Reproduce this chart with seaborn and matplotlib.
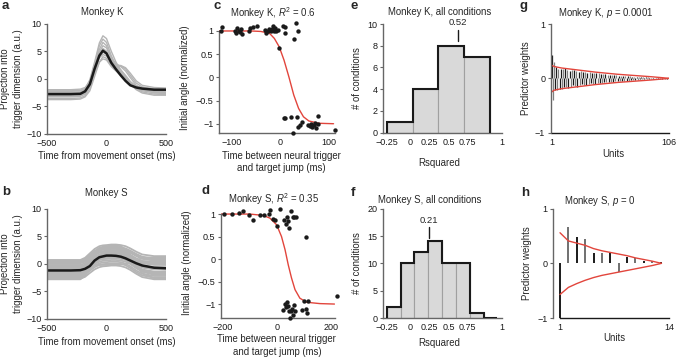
import numpy as np
import pandas as pd
import matplotlib
matplotlib.use('Agg')
import matplotlib.pyplot as plt
import seaborn as sns

sns.set_theme(style='ticks')
plt.rcParams['font.family'] = ['Liberation Sans', 'DejaVu Sans']
plt.rcParams['mathtext.fontset'] = 'custom'
plt.rcParams['mathtext.rm'] = 'Liberation Sans'
plt.rcParams['mathtext.it'] = 'Liberation Sans:italic'
plt.rcParams['axes.unicode_minus'] = True

# ---------------- data ----------------
time_ms = [-500, -300, -220, -180, -140, -100, -60, -30, 0, 40, 80, 120, 160, 200, 250, 300, 400, 500]

a_mean = [-2.8, -2.8, -2.75, -2.3, -1.0, 1.8, 4.2, 5.1, 4.6, 2.9, 1.7, 0.6, -0.4, -1.2, -1.6, -1.8, -2.0, -2.0]
a_trials = [
    [-2.2, -2.2, -2.1, -1.8, -0.2, 3.0, 6.5, 7.8, 7.3, 5.0, 3.0, 1.6, 0.4, -0.6, -1.3, -1.6, -1.8, -1.8],
    [-2.5, -2.5, -2.4, -2.0, -0.5, 2.6, 6.0, 7.2, 6.6, 4.2, 2.4, 1.0, -0.1, -1.0, -1.6, -1.9, -2.1, -2.1],
    [-3.0, -3.0, -2.9, -2.5, -1.0, 2.0, 5.3, 6.6, 6.0, 3.6, 2.4, 1.6, 0.6, -0.5, -1.5, -2.0, -2.3, -2.4],
    [-3.3, -3.3, -3.2, -2.8, -1.4, 1.5, 4.8, 6.0, 5.6, 3.8, 2.6, 2.2, 1.4, 0.2, -1.2, -2.0, -2.6, -2.7],
    [-3.6, -3.6, -3.5, -3.1, -1.8, 1.0, 4.3, 5.5, 5.0, 3.2, 2.0, 1.2, 0.2, -0.8, -1.8, -2.4, -2.8, -2.9],
    [-2.0, -2.0, -1.9, -1.6, -0.6, 1.6, 3.8, 4.4, 4.1, 3.0, 2.4, 2.4, 2.0, 1.0, -0.4, -1.2, -1.6, -1.7],
    [-3.8, -3.8, -3.7, -3.3, -2.2, 0.4, 3.0, 4.0, 3.7, 2.4, 1.5, 0.8, 0.0, -1.0, -2.0, -2.6, -3.0, -3.0],
    [-2.6, -2.6, -2.5, -2.2, -1.2, 1.0, 3.0, 3.6, 3.4, 2.2, 1.4, 0.6, -0.2, -0.9, -1.5, -1.9, -2.2, -2.2],
    [-3.2, -3.2, -3.1, -2.7, -1.3, 1.8, 4.2, 5.0, 4.6, 3.0, 1.8, 0.8, -0.2, -1.0, -1.8, -2.2, -2.5, -2.5],
    [-2.3, -2.3, -2.2, -1.9, -0.8, 1.8, 4.0, 4.8, 4.5, 3.4, 2.6, 2.3, 1.8, 0.6, -0.8, -1.5, -1.9, -2.0],
]

b_mean = [-1.2, -1.2, -1.15, -0.9, -0.4, 0.6, 1.2, 1.35, 1.5, 1.5, 1.45, 1.3, 1.0, 0.6, 0.1, -0.3, -0.7, -0.8]
b_trials = [
    [0.7, 0.7, 0.7, 1.1, 1.9, 2.7, 3.2, 3.35, 3.4, 3.5, 3.5, 3.4, 3.2, 2.8, 2.2, 1.7, 1.4, 1.4],
    [0.4, 0.4, 0.4, 0.8, 1.6, 2.35, 2.8, 2.95, 3.0, 3.1, 3.1, 3.0, 2.8, 2.4, 1.8, 1.3, 1.0, 1.0],
    [0.1, 0.1, 0.1, 0.5, 1.2, 2.0, 2.4, 2.55, 2.6, 2.7, 2.7, 2.6, 2.4, 2.0, 1.4, 0.9, 0.6, 0.6],
    [-0.2, -0.2, -0.2, 0.15, 0.9, 1.6, 2.0, 2.15, 2.2, 2.3, 2.3, 2.2, 2.0, 1.6, 1.0, 0.5, 0.2, 0.2],
    [-0.5, -0.5, -0.5, -0.15, 0.6, 1.3, 1.7, 1.85, 1.9, 2.0, 2.0, 1.9, 1.7, 1.3, 0.65, 0.1, -0.2, -0.2],
    [-0.8, -0.8, -0.8, -0.45, 0.3, 1.0, 1.4, 1.55, 1.6, 1.7, 1.7, 1.6, 1.4, 0.95, 0.3, -0.3, -0.6, -0.6],
    [-1.1, -1.1, -1.1, -0.75, -0.05, 0.6, 1.0, 1.15, 1.2, 1.3, 1.3, 1.2, 1.0, 0.55, -0.1, -0.7, -1.0, -1.0],
    [-1.4, -1.4, -1.4, -1.05, -0.35, 0.3, 0.7, 0.85, 0.9, 1.0, 1.0, 0.9, 0.7, 0.25, -0.45, -1.05, -1.4, -1.4],
    [-1.7, -1.7, -1.7, -1.35, -0.65, 0.0, 0.4, 0.55, 0.6, 0.7, 0.7, 0.6, 0.4, -0.05, -0.8, -1.4, -1.8, -1.8],
    [-2.0, -2.0, -2.0, -1.65, -0.95, -0.3, 0.1, 0.25, 0.3, 0.4, 0.4, 0.3, 0.05, -0.45, -1.2, -1.8, -2.2, -2.2],
    [-2.3, -2.3, -2.3, -1.95, -1.25, -0.6, -0.2, -0.05, 0.0, 0.1, 0.1, 0.0, -0.25, -0.75, -1.5, -2.1, -2.5, -2.5],
    [-2.7, -2.7, -2.7, -2.35, -1.65, -1.0, -0.6, -0.45, -0.4, -0.3, -0.3, -0.4, -0.65, -1.1, -1.8, -2.4, -2.8, -2.8],
    [0.3, 0.3, 0.3, 0.4, 0.6, 0.8, 0.95, 1.0, 1.0, 1.1, 1.1, 1.0, 0.75, 0.25, -0.5, -1.1, -1.5, -1.5],
    [-2.5, -2.5, -2.5, -1.7, -0.1, 1.5, 2.4, 2.7, 2.8, 2.9, 2.9, 2.8, 2.6, 2.2, 1.6, 1.1, 0.8, 0.8],
    [-1.0, -1.0, -1.0, -0.4, 0.9, 2.2, 2.9, 3.1, 3.2, 3.3, 3.3, 3.2, 2.6, 1.5, -0.3, -1.7, -2.6, -2.6],
    [-0.3, -0.3, -0.3, -0.3, -0.25, -0.2, -0.2, -0.2, -0.2, -0.1, -0.1, -0.1, 0.0, 0.3, 0.7, 1.0, 1.2, 1.2],
    [0.6, 0.6, 0.6, 0.7, 0.95, 1.2, 1.4, 1.5, 1.5, 1.6, 1.6, 1.5, 1.1, 0.4, -0.6, -1.4, -2.0, -2.0],
    [-2.8, -2.8, -2.8, -2.1, -0.7, 0.6, 1.4, 1.7, 1.8, 1.9, 1.9, 1.8, 1.6, 1.2, 0.6, 0.2, 0.0, 0.0],
    [0.5, 0.5, 0.5, 0.8, 1.5, 2.2, 2.7, 2.9, 3.0, 3.0, 2.9, 2.7, 2.3, 1.6, 0.6, -0.3, -0.9, -1.0],
    [-1.6, -1.6, -1.6, -1.2, -0.3, 0.8, 1.6, 1.9, 2.0, 2.1, 2.1, 2.0, 1.8, 1.4, 0.8, 0.3, 0.0, -0.1],
    [-2.2, -2.2, -2.2, -1.8, -0.9, 0.2, 0.9, 1.2, 1.3, 1.4, 1.4, 1.3, 1.0, 0.5, -0.4, -1.2, -1.7, -1.8],
    [-0.6, -0.6, -0.6, -0.3, 0.3, 0.8, 1.0, 1.1, 1.1, 1.2, 1.2, 1.1, 0.9, 0.5, 0.0, -0.5, -0.9, -1.0],
    [0.2, 0.2, 0.2, 0.5, 1.0, 1.7, 2.1, 2.3, 2.4, 2.5, 2.5, 2.4, 2.1, 1.6, 0.9, 0.4, 0.2, 0.1],
    [-1.9, -1.9, -1.9, -1.5, -0.7, 0.3, 1.0, 1.3, 1.4, 1.5, 1.5, 1.4, 1.3, 1.1, 0.7, 0.5, 0.4, 0.4],
]

c_x = [-122, -119, -93, -90, -89, -85, -82, -81, -79, -65, -62, -55, -47, -32, -29, -25, -23, -21,
       -19, -17, -15, -13, -10, -9, -5, -2, 5, 9, 10, 33, 37, 29,
       7, 11, 23, 26, 35, 37, 40, 45, 57, 61, 63, 66, 69, 71, 73, 79, 78, 113]
c_y = [1.0, 1.09, 1.0, 0.96, 1.06, 1.0, 0.98, 1.04, 0.93, 1.0, 1.06, 1.09, 1.11, 1.02, 0.96, 1.01, 1.04, 1.02,
       0.99, 1.04, 1.11, 1.01, 1.06, 0.99, 1.02, 0.63, 1.11, 0.95, 1.09, 1.17, 0.99, 0.82,
       -0.88, -0.87, -0.85, -1.19, -0.86, -1.08, -1.03, -0.96, -1.03, -1.05, -1.01, -1.06, -1.03, -0.98, -1.09, -0.83, -1.01, -1.14]
c_fit_x = [-126, -60, -40, -22, -12, -2, 8, 18, 28, 38, 48, 59, 79, 110]
c_fit_y = [1.0, 1.0, 0.99, 0.95, 0.84, 0.66, 0.37, 0.01, -0.38, -0.67, -0.85, -0.94, -0.99, -1.0]

d_x = [-196, -166, -141, -123, -101, -88, -61, -45, -27, -25, -12, -6, 0, 12, 28, 33, 37, 43, 45, 53, 59, 64, 71, 108,
       22, 31, 34, 39, 43, 47, 52, 55, 59, 64, 67, 49, 92, 102, 108, 117, 114, 224]
d_y = [1.0, 1.0, 1.02, 1.07, 0.97, 0.87, 0.97, 0.97, 1.0, 1.09, 0.9, 0.86, 0.73, 1.12, 0.87, 0.78, 0.93, 0.84, 0.69, 1.06, 0.94, 0.93, 0.93, 0.5,
       -1.13, -1.0, -1.07, -0.96, -1.05, -1.15, -1.16, -1.1, -1.24, -1.01, -1.15, -1.31, -1.13, -0.93, -1.1, -0.93, -1.2, -0.81]
d_fit_x = [-206, -100, -50, -25, 0, 18, 31, 43, 55, 68, 86, 111, 160, 214]
d_fit_y = [1.0, 1.0, 0.97, 0.91, 0.76, 0.5, 0.21, -0.13, -0.42, -0.68, -0.87, -0.96, -0.99, -1.0]

e_edges = [-0.25, 0.03, 0.31, 0.59, 0.87]
e_counts = [1, 4, 8, 7]
e_median = 0.52
f_edges = [-0.25, -0.1, 0.05, 0.2, 0.35, 0.5, 0.65, 0.8, 0.95]
f_counts = [2, 10, 12, 14, 10, 10, 1, 0]
f_median = 0.21
hist_tick_pos = [-0.25, 0.0, 0.21, 0.42, 0.63, 1.0]
hist_tick_lab = ['\u22120.25', '0', '0.25', '0.5', '0.75', '1']

g_weights = [0.43, -0.39, 0.30, -0.22, 0.20, -0.21, 0.18, -0.19, 0.17, -0.20,
             0.18, -0.16, 0.19, -0.15, 0.16, -0.17, 0.14, -0.16, 0.15, -0.13,
             0.15, -0.14, 0.13, -0.15, 0.12, -0.13, 0.14, -0.11, 0.12, -0.12,
             0.11, -0.12, 0.10, -0.11, 0.11, -0.09, 0.10, -0.10, 0.09, -0.10,
             0.09, -0.08, 0.09, -0.09, 0.08, -0.08, 0.08, -0.07, 0.08, -0.07,
             0.07, -0.07, 0.06, -0.07, 0.06, -0.06, 0.06, -0.05, 0.06, -0.05,
             0.05, -0.05, 0.05, -0.04, 0.05, -0.04, 0.04, -0.04, 0.04, -0.04,
             0.04, -0.03, 0.03, -0.03, 0.03, -0.03, 0.03, -0.03, 0.03, -0.02,
             0.02, -0.02, 0.02, -0.02, 0.02, -0.02, 0.02, -0.015, 0.015, -0.015,
             0.015, -0.01, 0.01, -0.01, 0.01, -0.01, 0.01, -0.008, 0.008, -0.006,
             0.006, -0.005, 0.004, -0.003, 0.002, -0.001]
g_env_x = [1, 3, 5, 10, 20, 30, 40, 50, 60, 70, 80, 90, 100, 106]
g_env_hi = [0.24, 0.22, 0.21, 0.19, 0.165, 0.14, 0.115, 0.095, 0.075, 0.06, 0.045, 0.03, 0.012, 0.0]
g_env_lo = [-0.25, -0.22, -0.21, -0.19, -0.165, -0.14, -0.115, -0.095, -0.075, -0.06, -0.045, -0.03, -0.012, 0.0]

h_weights = [-1.0, 0.67, 0.48, 0.44, 0.19, 0.19, 0.19, -0.15, 0.12, 0.10, 0.05, 0.04, 0.02, 0.0]
h_env_x = [1, 2, 3, 4, 5, 6, 7, 8, 9, 10, 11, 12, 13.1]
h_env_hi = [0.56, 0.41, 0.37, 0.33, 0.27, 0.23, 0.2, 0.17, 0.14, 0.1, 0.07, 0.04, 0.0]
h_env_lo = [-0.57, -0.44, -0.37, -0.31, -0.26, -0.22, -0.19, -0.16, -0.13, -0.1, -0.07, -0.04, 0.0]

# ---------------- figure ----------------
W, H = 678, 358
fig = plt.figure(figsize=(W / 100, H / 100), dpi=100)

FS = 6.9
TFS = 6.5
SPC = '#666666'
GRAY = '#b5b5b5'
RED = '#e2453c'


def add_ax(l, t, r, b):
    ax = fig.add_axes([l / W, 1 - b / H, (r - l) / W, (b - t) / H])
    for s in ['top', 'right']:
        ax.spines[s].set_visible(False)
    for s in ['left', 'bottom']:
        ax.spines[s].set_color(SPC)
        ax.spines[s].set_linewidth(1.0)
    ax.tick_params(axis='x', length=0, pad=3.5, labelsize=TFS, colors='k')
    ax.tick_params(axis='y', length=2.5, width=0.8, color=SPC, pad=1.5, labelsize=TFS, labelcolor='k')
    ax.set_facecolor('none')
    return ax


def labels(ax, xl, yl, xy, yx, xx=0.5, yy=0.5):
    ax.set_xlabel(xl, fontsize=FS, va='center', ha='center', linespacing=1.3)
    ax.set_ylabel(yl, fontsize=FS, va='center', ha='center', linespacing=1.3)
    ax.xaxis.set_label_coords(xx, xy)
    ax.yaxis.set_label_coords(yx, yy)


def ftext(x, y, s, **kw):
    fig.text(x / W, 1 - y / H, s, ha='center', va='center', **kw)


def traces(ax, trials, mean, lw):
    df = pd.DataFrame([{'t': t, 'y': v, 'trial': i}
                       for i, line in enumerate(trials) for t, v in zip(time_ms, line)])
    sns.lineplot(data=df, x='t', y='y', units='trial', estimator=None, color=GRAY,
                 lw=lw, ax=ax, legend=False)
    sns.lineplot(x=time_ms, y=mean, color='k', lw=1.8, ax=ax)
    ax.set_xlim(-500, 500)
    ax.set_ylim(-10, 10)
    ax.set_xticks([-500, 0, 500])
    ax.set_yticks([-10, -5, 0, 5, 10])
    labels(ax, 'Time from movement onset (ms)', 'Projection into\ntrigger dimension (a.u.)', -0.205, -0.297)


def scatter_fit(ax, x, y, fx, fy, xlim, ylim, xticks):
    sns.lineplot(x=fx, y=fy, color=RED, lw=1.0, ax=ax)
    sns.scatterplot(x=x, y=y, color='k', s=10, linewidth=0, ax=ax, clip_on=False, zorder=3)
    ax.set_xlim(*xlim)
    ax.set_ylim(*ylim)
    ax.set_xticks(xticks)
    ax.set_yticks([-1, -0.5, 0, 0.5, 1])
    ax.set_yticklabels(['\u22121', '\u22120.5', '0', '0.5', '1'])
    ax.spines['left'].set_bounds(ylim[0], 1)
    labels(ax, 'Time between neural trigger\nand target jump (ms)', 'Initial angle (normalized)', -0.26, -0.295)


def hist(ax, edges, counts, med, ymax, yticks, mline, mtext):
    centers = [(edges[i] + edges[i + 1]) / 2 for i in range(len(counts))]
    sns.histplot(x=centers, weights=counts, bins=edges, stat='count', color='#d9d9d9',
                 edgecolor='#a0a0a0', linewidth=0.8, alpha=1, ax=ax)
    ax.stairs(counts, edges, baseline=0, color='k', lw=1.5, zorder=3)
    ax.plot([med, med], mline, color='k', lw=1.0)
    ax.text(med, mtext, f'{med:.2f}', ha='center', va='center', fontsize=TFS + 0.3, clip_on=False)
    ax.set_xlim(-0.29, 1.0)
    ax.set_ylim(0, ymax)
    ax.set_yticks(yticks)
    ax.set_xticks(hist_tick_pos)
    ax.set_xticklabels(hist_tick_lab)
    labels(ax, 'Rsquared', '# of conditions', -0.26, -0.22)


def weights(ax, w, ex, ehi, elo, xmin, xmax, lw, pair_colors):
    units = list(range(1, len(w) + 1))
    if pair_colors:
        cols = ['#808080' if (u // 2) % 2 == 1 else 'k' for u in units]
    else:
        cols = ['#707070' if u % 2 == 0 else 'k' for u in units]
    ax.vlines(units, 0, w, colors=cols, lw=lw)
    sns.lineplot(x=ex, y=ehi, color=RED, lw=1.0, ax=ax)
    sns.lineplot(x=ex, y=elo, color=RED, lw=1.0, ax=ax)
    ax.set_xlim(xmin, xmax)
    ax.set_ylim(-1, 1)
    ax.set_xticks([1, xmax])
    ax.set_yticks([-1, 0, 1])
    ax.spines['bottom'].set_bounds(1, xmax)
    ax.spines['bottom'].set_color('k')
    labels(ax, 'Units', 'Predictor weights', -0.2, -0.22, xx=0.53)


# a
ax = add_ax(47, 23.7, 166, 133.7)
traces(ax, a_trials, a_mean, 1.0)
# b
ax = add_ax(47, 208.7, 166, 319)
traces(ax, b_trials, b_mean, 1.3)
# c
ax = add_ax(219, 21.7, 335, 133)
scatter_fit(ax, c_x, c_y, c_fit_x, c_fit_y, (-126, 113), (-1.2, 1.2), [-100, 0, 100])
ax.xaxis.set_label_coords(0.54, -0.26)
# d
ax = add_ax(221, 207.3, 335, 318)
scatter_fit(ax, d_x, d_y, d_fit_x, d_fit_y, (-206, 216), (-1.31, 1.15), [-200, 0, 200])
ax.xaxis.set_label_coords(0.49, -0.25)
# e
ax = add_ax(383, 24, 502, 132.7)
hist(ax, e_edges, e_counts, e_median, 10, [0, 2, 4, 6, 8, 10], [8.4, 9.45], 10.1)
ax.xaxis.set_label_coords(0.47, -0.28)
# f
ax = add_ax(383, 208.7, 502, 318)
hist(ax, f_edges, f_counts, f_median, 20, [0, 5, 10, 15, 20], [14.6, 16.6], 17.9)
ax.xaxis.set_label_coords(0.47, -0.23)
# g
ax = add_ax(550.7, 24, 669, 132.7)
weights(ax, g_weights, g_env_x, g_env_hi, g_env_lo, 0.1, 106, 0.9, True)
ax.yaxis.set_label_coords(-0.21, 0.5)
# h
ax = add_ax(553.3, 208.7, 669, 318)
weights(ax, h_weights, h_env_x, h_env_hi, h_env_lo, 0.2, 14, 1.4, False)
ax.yaxis.set_label_coords(-0.23, 0.5)
ax.xaxis.set_label_coords(0.53, -0.18)

# titles
ftext(102, 11.7, 'Monkey K', fontsize=FS)
ftext(106.7, 193, 'Monkey S', fontsize=FS)
ftext(273.3, 13.3, 'Monkey K, $\\mathit{R}^2$ = 0.6', fontsize=FS)
ftext(274, 198.7, 'Monkey S, $\\mathit{R}^2$ = 0.35', fontsize=FS)
ftext(440, 11.7, 'Monkey K, all conditions', fontsize=FS)
ftext(430, 200.3, 'Monkey S, all conditions', fontsize=FS)
ftext(605.7, 12.7, 'Monkey K, $\\mathit{p}$ = 0.0001', fontsize=FS)
ftext(600, 200.7, 'Monkey S, $\\mathit{p}$ = 0', fontsize=FS)

# panel letters
for lt, x, y in [('a', 5, 6), ('b', 6.5, 192), ('c', 217.5, 6), ('d', 205, 191),
                 ('e', 354, 6), ('f', 353, 193), ('g', 524, 6), ('h', 525, 193)]:
    ftext(x, y, lt, fontsize=9.5, fontweight='bold')

fig.savefig('out.png', dpi=100)
